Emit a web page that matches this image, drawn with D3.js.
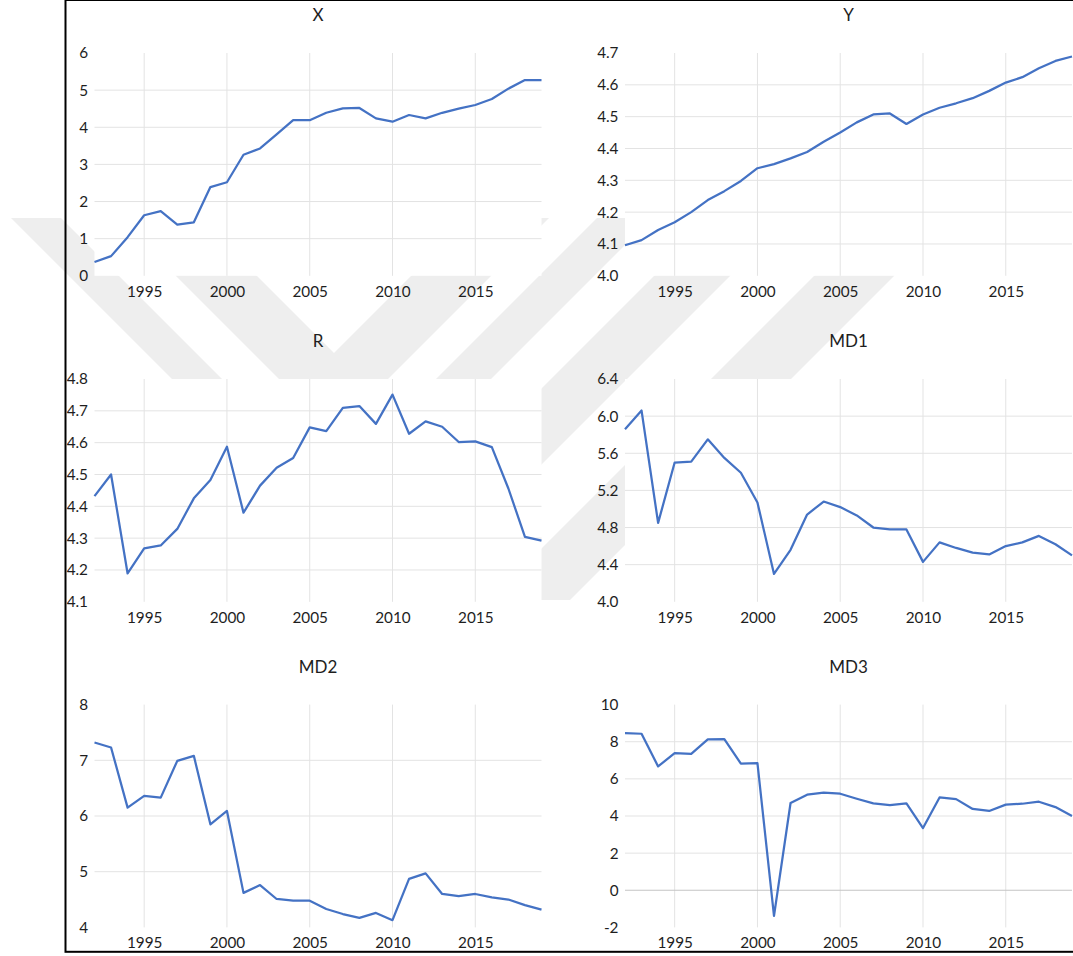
<!DOCTYPE html>
<html>
<head>
<meta charset="utf-8">
<script src="https://cdn.jsdelivr.net/npm/d3@7"></script>
<style>
  body { margin: 0; background: #fff; }
  svg { display: block; }
  text { font-family: Lato, "Open Sans", sans-serif; fill: #1e1e1e; }
</style>
</head>
<body>
<svg id="chart" width="1073" height="956"></svg>
<script>
// years on the category axis
const years = [1992, 1993, 1994, 1995, 1996, 1997, 1998, 1999, 2000, 2001,
  2002, 2003, 2004, 2005, 2006, 2007, 2008, 2009, 2010, 2011,
  2012, 2013, 2014, 2015, 2016, 2017, 2018, 2019];
const yearTicks = [1995, 2000, 2005, 2010, 2015];

// series
const xVals = [0.37, 0.53, 1.04, 1.63, 1.74, 1.38, 1.44, 2.39, 2.52, 3.26,
  3.43, 3.81, 4.19, 4.19, 4.39, 4.51, 4.52, 4.24, 4.15, 4.33,
  4.24, 4.39, 4.50, 4.60, 4.76, 5.04, 5.27, 5.27];
const yVals = [4.096, 4.112, 4.144, 4.168, 4.200, 4.238, 4.266, 4.298, 4.338, 4.351,
  4.369, 4.389, 4.421, 4.450, 4.482, 4.507, 4.510, 4.477, 4.507, 4.528,
  4.542, 4.558, 4.581, 4.607, 4.624, 4.652, 4.675, 4.689];
const rVals = [4.432, 4.500, 4.189, 4.268, 4.277, 4.329, 4.425, 4.483, 4.587, 4.380,
  4.465, 4.521, 4.552, 4.648, 4.636, 4.709, 4.715, 4.659, 4.751, 4.628,
  4.667, 4.650, 4.602, 4.604, 4.586, 4.456, 4.304, 4.292];
const md1Vals = [5.86, 6.06, 4.85, 5.50, 5.51, 5.75, 5.55, 5.39, 5.07, 4.30,
  4.56, 4.94, 5.08, 5.02, 4.93, 4.80, 4.78, 4.78, 4.43, 4.64,
  4.58, 4.53, 4.51, 4.60, 4.64, 4.71, 4.62, 4.50];
const md2Vals = [7.32, 7.23, 6.15, 6.36, 6.33, 6.99, 7.08, 5.85, 6.09, 4.62,
  4.76, 4.51, 4.48, 4.48, 4.33, 4.24, 4.17, 4.26, 4.13, 4.87,
  4.97, 4.60, 4.56, 4.60, 4.54, 4.50, 4.40, 4.32];
const md3Vals = [8.47, 8.43, 6.67, 7.39, 7.35, 8.13, 8.14, 6.82, 6.85, -1.38,
  4.70, 5.15, 5.26, 5.20, 4.93, 4.68, 4.59, 4.68, 3.35, 5.00,
  4.91, 4.38, 4.27, 4.61, 4.66, 4.77, 4.48, 4.00];

// value-axis tick labels
const xTicks = [0, 1, 2, 3, 4, 5, 6];
const yTicks = [4.0, 4.1, 4.2, 4.3, 4.4, 4.5, 4.6, 4.7];
const rTicks = [4.1, 4.2, 4.3, 4.4, 4.5, 4.6, 4.7, 4.8];
const md1Ticks = [4.0, 4.4, 4.8, 5.2, 5.6, 6.0, 6.4];
const md2Ticks = [4, 5, 6, 7, 8];
const md3Ticks = [-2, 0, 2, 4, 6, 8, 10];

const plain = d3.formatLocale({ decimal: ".", thousands: "", grouping: [3], currency: ["", ""], minus: "-" });

const panels = [
  { title: "X", values: xVals, ticks: xTicks, fmt: plain.format("d"), col: 0, row: 0 },
  { title: "Y", values: yVals, ticks: yTicks, fmt: plain.format(".1f"), col: 1, row: 0 },
  { title: "R", values: rVals, ticks: rTicks, fmt: plain.format(".1f"), col: 0, row: 1 },
  { title: "MD1", values: md1Vals, ticks: md1Ticks, fmt: plain.format(".1f"), col: 1, row: 1 },
  { title: "MD2", values: md2Vals, ticks: md2Ticks, fmt: plain.format("d"), col: 0, row: 2 },
  { title: "MD3", values: md3Vals, ticks: md3Ticks, fmt: plain.format("d"), col: 1, row: 2 }
];

const colLeft = [94.5, 625];
const rowTop = [53, 379, 704.6];
const plotW = 447;
const plotH = 222.8;

const svg = d3.select("#chart");

// faint page watermark behind the charts (diagonal bands)
const wm = svg.append("g").attr("fill", "#eeeeee");
function band(dir, c1, c2, yt, yb) {
  // dir 1: "\" band (x - y in [c1, c2]); dir -1: "/" band (x + y in [c1, c2])
  const px = (c, y) => dir > 0 ? c + y : c - y;
  return [[px(c1, yt), yt], [px(c2, yt), yt], [px(c2, yb), yb], [px(c1, yb), yb]];
}
[
  band(1, -207, -157, 218, 600),
  band(-1, 815, 870, 218, 600),
  band(-1, 930, 1006, 218, 600),
  band(-1, 1090, 1170, 218, 600)
].forEach(pts => wm.append("polygon").attr("points", pts.join(" ")));
// the V in the middle
wm.append("polygon")
  .attr("points", [[-100 + 218, 218], [-19 + 218, 218], [334, 353], [687 - 218, 218],
    [767 - 218, 218], [333.5, 433.5]].join(" "));

panels.forEach(p => {
  const x0 = colLeft[p.col];
  const y0 = rowTop[p.row];

  const xScale = d3.scaleLinear()
    .domain([years[0], years[years.length - 1]])
    .range([0, plotW]);

  const yScale = d3.scaleLinear()
    .domain(d3.extent(p.ticks))
    .range([plotH, 0]);

  const g = svg.append("g")
    .attr("transform", `translate(${x0}, ${y0})`);

  // plot area
  g.append("rect")
    .attr("width", plotW)
    .attr("height", plotH)
    .attr("fill", "#fff");

  // horizontal gridlines (inner ticks only)
  const inner = p.ticks.slice(1, -1);
  g.append("g")
    .selectAll("line")
    .data(inner.filter(d => d !== 0))
    .enter().append("line")
    .attr("x1", 0)
    .attr("x2", plotW)
    .attr("y1", d => yScale(d))
    .attr("y2", d => yScale(d))
    .attr("stroke", "#e3e3e3")
    .attr("stroke-width", 1);

  // vertical gridlines
  g.append("g")
    .selectAll("line")
    .data(yearTicks)
    .enter().append("line")
    .attr("x1", d => xScale(d))
    .attr("x2", d => xScale(d))
    .attr("y1", 0)
    .attr("y2", plotH)
    .attr("stroke", "#e3e3e3")
    .attr("stroke-width", 1);

  // category axis line where zero sits inside the range
  if (inner.includes(0)) {
    g.append("line")
      .attr("x1", 0)
      .attr("x2", plotW)
      .attr("y1", yScale(0))
      .attr("y2", yScale(0))
      .attr("stroke", "#c4c4c4")
      .attr("stroke-width", 1.2);
  }

  // value axis labels
  const yAxis = d3.axisLeft(yScale)
    .tickValues(p.ticks)
    .tickFormat(p.fmt)
    .tickSize(0)
    .tickPadding(6.5);

  const ya = g.append("g").call(yAxis);
  ya.select(".domain").remove();
  ya.selectAll("text")
    .attr("font-size", 15.3)
    .attr("font-family", "Lato, sans-serif")
    .attr("fill", "#1a1a1a");

  // year labels
  const xAxis = d3.axisBottom(xScale)
    .tickValues(yearTicks)
    .tickFormat(plain.format("d"))
    .tickSize(0);

  const xa = g.append("g")
    .attr("transform", `translate(0, ${plotH})`)
    .call(xAxis);
  xa.select(".domain").remove();
  xa.selectAll("text")
    .attr("y", 15.6)
    .attr("dy", "0.36em")
    .attr("font-size", 15.3)
    .attr("font-family", "Lato, sans-serif")
    .attr("fill", "#1a1a1a");

  // series line
  g.append("path")
    .datum(p.values)
    .attr("fill", "none")
    .attr("stroke", "#4472c4")
    .attr("stroke-width", 2.25)
    .attr("stroke-linejoin", "round")
    .attr("d", d3.line()
      .x((d, i) => xScale(years[i]))
      .y(d => yScale(d))
    );

  // title
  g.append("text")
    .attr("x", plotW / 2)
    .attr("y", -38)
    .attr("dy", "0.36em")
    .attr("text-anchor", "middle")
    .attr("font-size", 17)
    .attr("fill", "#1a1a1a")
    .text(p.title);
});

// frame around the figure
svg.append("rect")
  .attr("x", 65.5)
  .attr("y", 0)
  .attr("width", 1200)
  .attr("height", 951.8)
  .attr("fill", "none")
  .attr("stroke", "#000")
  .attr("stroke-width", 2);
</script>
</body>
</html>
